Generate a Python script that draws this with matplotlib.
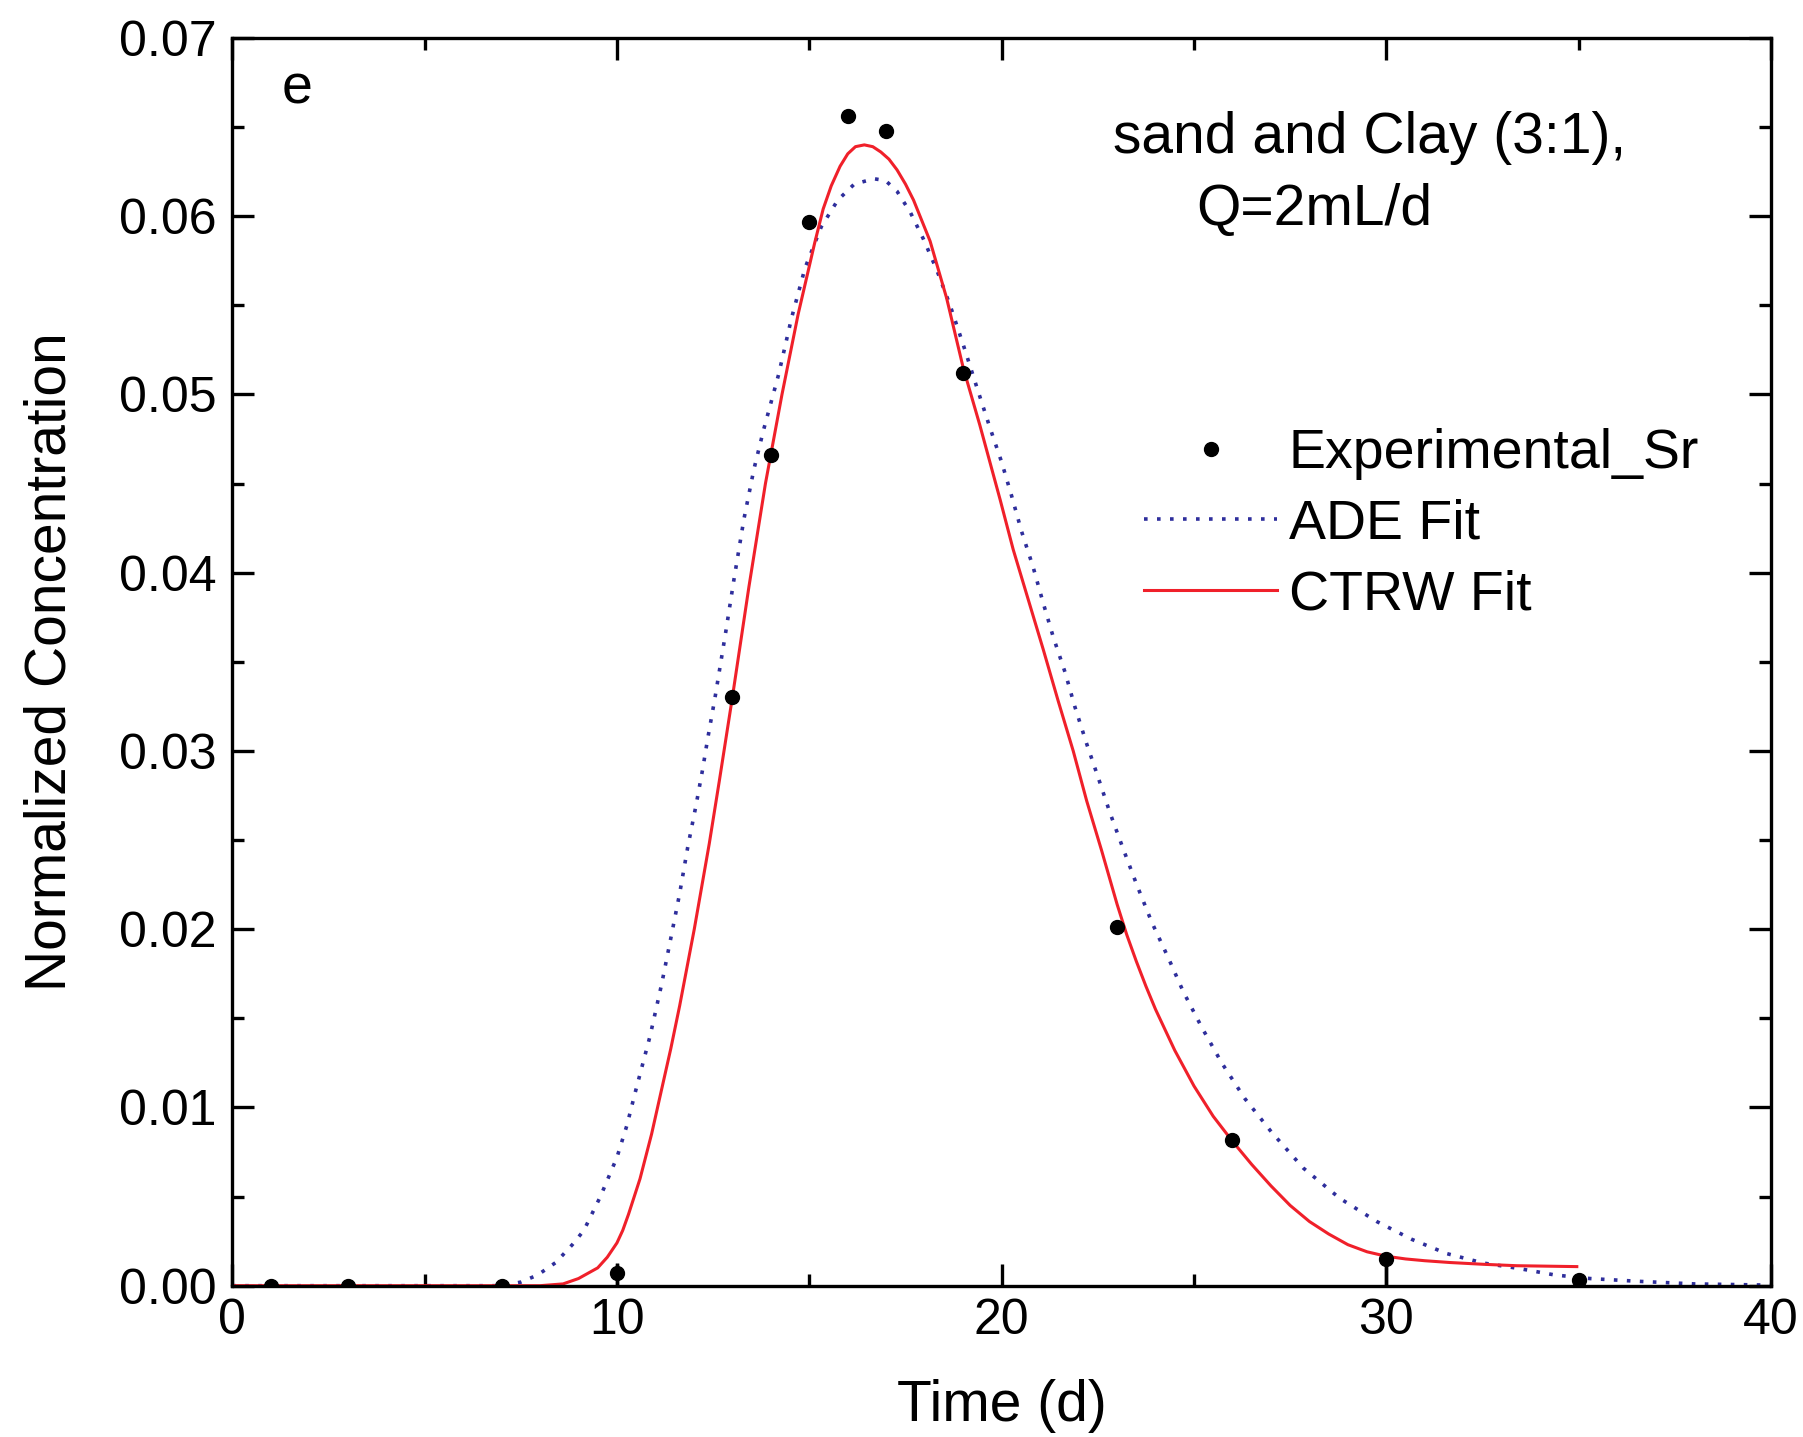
import numpy as np
import matplotlib
matplotlib.use('Agg')
from matplotlib import pyplot as plt
from matplotlib.ticker import MultipleLocator, FormatStrFormatter

plt.rcParams['font.family'] = ['Liberation Sans', 'DejaVu Sans']

# experimental points
t_exp = [1, 3, 7, 10, 13, 14, 15, 16, 17, 19, 23, 26, 30, 35]
c_exp = [0.0, 0.0, 0.0, 0.0007, 0.0330, 0.0466, 0.0597, 0.0656, 0.0648,
         0.0512, 0.0201, 0.0082, 0.0015, 0.0003]
err_lo = [0, 0, 0, 0.0007, 0, 0, 0, 0, 0, 0, 0, 0, 0.0015, 0]
err_hi = [0, 0, 0, 0.0006, 0, 0, 0, 0, 0, 0, 0, 0, 0.0003, 0]

# ADE fit
t_ade = [0, 7.0, 7.5, 7.94, 8.41, 8.84, 9.14, 9.57, 10.0, 10.26, 10.47, 10.86,
         11.16, 11.41, 11.63, 11.84, 12.06, 12.23, 12.36, 12.55, 12.83, 13.04,
         13.3, 13.56, 13.81, 14.2, 14.54, 14.89, 15.31, 15.74, 16.17, 16.68,
         16.98, 17.28, 17.63, 17.97, 18.31, 18.66, 19.0, 19.34, 19.67, 20.0,
         20.26, 20.52, 20.82, 21.08, 21.34, 21.65, 21.9, 22.21, 22.51, 22.82,
         23.16, 23.51, 23.9, 24.33, 24.72, 25.2, 25.72, 26.32, 27.02, 27.84,
         28.79, 29.75, 30.66, 31.57, 32.52, 33.43, 34.38, 35.3, 36.5, 38.0, 40.0]
c_ade = [0, 0, 0.0002, 0.0006, 0.0013, 0.0023, 0.0031, 0.0050, 0.0072, 0.0090,
         0.0108, 0.0140, 0.0169, 0.0196, 0.0220, 0.0246, 0.0270, 0.0290, 0.0307,
         0.0330, 0.0367, 0.0396, 0.0430, 0.0458, 0.0480, 0.0511, 0.0543, 0.0571,
         0.0594, 0.0609, 0.0618, 0.0621, 0.0620, 0.0614, 0.0602, 0.0587, 0.0570,
         0.0550, 0.0528, 0.0505, 0.0483, 0.0462, 0.0443, 0.0423, 0.0403, 0.0383,
         0.0364, 0.0344, 0.0325, 0.0304, 0.0285, 0.0265, 0.0245, 0.0225, 0.0204,
         0.0184, 0.0165, 0.0145, 0.0125, 0.0105, 0.0086, 0.0066, 0.0049, 0.0036,
         0.0026, 0.0018, 0.00127, 0.00097, 0.0006, 0.0004, 0.00025, 0.0001,
         0.00003]

# CTRW fit
t_ctrw = [0, 8.0, 8.6, 9.0, 9.5, 9.75, 10.0, 10.15, 10.3, 10.6, 10.9, 11.16,
          11.4, 11.63, 12.01, 12.4, 12.66, 13.0, 13.43, 13.86, 14.29, 14.71,
          15.14, 15.36, 15.57, 15.8, 16.0, 16.2, 16.43, 16.65, 16.86, 17.07,
          17.28, 17.5, 17.71, 18.14, 18.57, 19.0, 19.43, 19.96, 20.3, 20.69,
          21.08, 21.47, 21.86, 22.21, 22.6, 22.8, 23.0, 23.25, 23.5, 23.75,
          24.0, 24.5, 25.0, 25.5, 26.0, 26.5, 27.0, 27.5, 28.0, 28.5, 29.0,
          29.5, 30.0, 30.5, 31.0, 31.65, 32.52, 33.39, 34.95]
c_ctrw = [0, 0, 0.0001, 0.0004, 0.0010, 0.0016, 0.0024, 0.0031, 0.0040, 0.0060,
          0.0085, 0.0110, 0.0133, 0.0157, 0.0200, 0.0248, 0.0283, 0.0330, 0.0392,
          0.0450, 0.0500, 0.0545, 0.0585, 0.0604, 0.0617, 0.0628, 0.0635, 0.0639,
          0.0640, 0.0639, 0.0636, 0.0632, 0.0626, 0.0618, 0.0609, 0.0586, 0.0554,
          0.0515, 0.0483, 0.0441, 0.0413, 0.0385, 0.0357, 0.0328, 0.0300, 0.0272,
          0.0244, 0.0229, 0.0214, 0.0197, 0.0182, 0.0168, 0.0155, 0.0132, 0.0112,
          0.0095, 0.0081, 0.0068, 0.0056, 0.0045, 0.0036, 0.0029, 0.0023, 0.0019,
          0.00165, 0.0015, 0.0014, 0.0013, 0.0012, 0.00112, 0.00107]

fig = plt.figure(figsize=(18.03, 14.37), dpi=100)
ax = fig.add_axes([0.1288, 0.1053, 0.8535, 0.8683])

ax.errorbar(t_exp, c_exp, yerr=[err_lo, err_hi], fmt='none', ecolor='black',
            elinewidth=2.5, capsize=0, zorder=4)
h_exp, = ax.plot(t_exp, c_exp, 'o', color='black', markersize=10, zorder=5,
                 label='Experimental_Sr')
h_ade, = ax.plot(t_ade, c_ade, color='#2e2e9c', linewidth=2.6,
                 linestyle=(0, (1, 2.6)), label='ADE Fit')
h_ctrw, = ax.plot(t_ctrw, c_ctrw, color='#f0202a', linewidth=2.2,
                  label='CTRW Fit')

ax.set_xlim(0, 40)
ax.set_ylim(0, 0.07)
ax.xaxis.set_major_locator(MultipleLocator(10))
ax.xaxis.set_minor_locator(MultipleLocator(5))
ax.yaxis.set_major_locator(MultipleLocator(0.01))
ax.yaxis.set_minor_locator(MultipleLocator(0.005))
ax.yaxis.set_major_formatter(FormatStrFormatter('%.2f'))
ax.tick_params(which='both', direction='in', top=True, right=True, width=2.4)
ax.tick_params(which='major', length=16, labelsize=36)
ax.tick_params(which='minor', length=8.5)
ax.tick_params(axis='y', pad=11)
ax.tick_params(axis='x', pad=9)
for s in ax.spines.values():
    s.set_linewidth(2.4)

ax.set_xlabel('Time (d)', fontsize=41, labelpad=25)
ax.set_ylabel('Normalized Concentration', fontsize=41, labelpad=30)

ax.text(0.032, 0.9586, 'e', transform=ax.transAxes, fontsize=40, va='center')
ax.text(0.5724, 0.92, 'sand and Clay (3:1),', transform=ax.transAxes,
        fontsize=41, va='center')
ax.text(0.6263, 0.862, 'Q=2mL/d', transform=ax.transAxes, fontsize=41,
        va='center')

ax.legend(handles=[h_exp, h_ade, h_ctrw], loc='upper left',
          bbox_to_anchor=(0.5926, 0.687), frameon=False, fontsize=40,
          handlelength=2.4, handletextpad=0.2, labelspacing=0.33,
          borderpad=0, borderaxespad=0)

plt.savefig('out.png', dpi=100)
